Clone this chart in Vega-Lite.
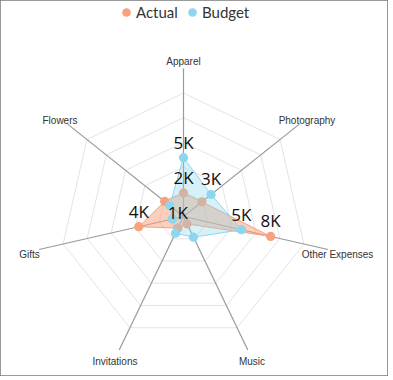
{
  "$schema": "https://vega.github.io/schema/vega-lite/v6.json",
  "width": 388,
  "height": 376,
  "autosize": {"type": "none"},
  "padding": 0,
  "background": "white",
  "config": {"view": {"stroke": "#7a7a7a", "strokeWidth": 1.5}},
  "datasets": {
    "spend": [
      {"category": "Apparel", "idx": 0, "series": "Actual", "value": 2000, "label": "2K"},
      {"category": "Photography", "idx": 1, "series": "Actual", "value": 2000, "label": ""},
      {"category": "Other Expenses", "idx": 2, "series": "Actual", "value": 7600, "label": "8K"},
      {"category": "Music", "idx": 3, "series": "Actual", "value": 700, "label": ""},
      {"category": "Invitations", "idx": 4, "series": "Actual", "value": 1100, "label": "1K"},
      {"category": "Gifts", "idx": 5, "series": "Actual", "value": 3900, "label": "4K"},
      {"category": "Flowers", "idx": 6, "series": "Actual", "value": 2050, "label": ""},
      {"category": "Apparel", "idx": 0, "series": "Budget", "value": 5000, "label": "5K"},
      {"category": "Photography", "idx": 1, "series": "Budget", "value": 3000, "label": "3K"},
      {"category": "Other Expenses", "idx": 2, "series": "Budget", "value": 5050, "label": "5K"},
      {"category": "Music", "idx": 3, "series": "Budget", "value": 1950, "label": ""},
      {"category": "Invitations", "idx": 4, "series": "Budget", "value": 1570, "label": ""},
      {"category": "Gifts", "idx": 5, "series": "Budget", "value": 980, "label": ""},
      {"category": "Flowers", "idx": 6, "series": "Budget", "value": 1500, "label": ""}
    ],
    "categories": [
      {"category": "Apparel", "idx": 0},
      {"category": "Photography", "idx": 1},
      {"category": "Other Expenses", "idx": 2},
      {"category": "Music", "idx": 3},
      {"category": "Invitations", "idx": 4},
      {"category": "Gifts", "idx": 5},
      {"category": "Flowers", "idx": 6}
    ],
    "rings": [
      {"level": 2100, "idx": [0, 1, 2, 3, 4, 5, 6]},
      {"level": 4200, "idx": [0, 1, 2, 3, 4, 5, 6]},
      {"level": 6300, "idx": [0, 1, 2, 3, 4, 5, 6]},
      {"level": 8400, "idx": [0, 1, 2, 3, 4, 5, 6]},
      {"level": 10500, "idx": [0, 1, 2, 3, 4, 5, 6]}
    ]
  },
  "layer": [
    {
      "data": {"name": "rings"},
      "transform": [
        {"flatten": ["idx"]},
        {"calculate": "datum.idx * 2 * PI / 7", "as": "angle"},
        {"calculate": "datum.level * sin(datum.angle)", "as": "x"},
        {"calculate": "datum.level * cos(datum.angle)", "as": "y"}
      ],
      "mark": {"type": "line", "interpolate": "linear-closed", "stroke": "#e4e4e4", "strokeWidth": 1},
      "encoding": {
        "x": {"field": "x", "type": "quantitative", "scale": {"domain": [-15601, 17387], "nice": false, "zero": false}, "axis": null},
        "y": {"field": "y", "type": "quantitative", "scale": {"domain": [-13561, 18407], "nice": false, "zero": false}, "axis": null},
        "detail": {"field": "level"},
        "order": {"field": "idx"}
      }
    },
    {
      "data": {"name": "categories"},
      "transform": [
        {"calculate": "datum.idx * 2 * PI / 7", "as": "angle"},
        {"calculate": "12600 * sin(datum.angle)", "as": "x"},
        {"calculate": "12600 * cos(datum.angle)", "as": "y"}
      ],
      "mark": {"type": "rule", "stroke": "#9a9a9a", "strokeWidth": 1.2},
      "encoding": {
        "x": {"field": "x", "type": "quantitative"},
        "y": {"field": "y", "type": "quantitative"},
        "x2": {"datum": 0},
        "y2": {"datum": 0}
      }
    },
    {
      "data": {"name": "categories"},
      "transform": [
        {"calculate": "datum.idx * 2 * PI / 7", "as": "angle"},
        {"calculate": "13430 * sin(datum.angle)", "as": "x"},
        {"calculate": "13430 * cos(datum.angle)", "as": "y"}
      ],
      "mark": {"type": "text", "font": "Liberation Sans", "fontSize": 10, "color": "#333333", "align": "center", "baseline": "middle", "dy": 3},
      "encoding": {
        "x": {"field": "x", "type": "quantitative"},
        "y": {"field": "y", "type": "quantitative"},
        "text": {"field": "category"}
      }
    },
    {
      "data": {"name": "spend"},
      "transform": [
        {"filter": "datum.series == 'Actual'"},
        {"calculate": "datum.idx * 2 * PI / 7", "as": "angle"},
        {"calculate": "datum.value * sin(datum.angle)", "as": "x"},
        {"calculate": "datum.value * cos(datum.angle)", "as": "y"}
      ],
      "mark": {"type": "line", "interpolate": "linear-closed", "stroke": "#f9a07c", "strokeWidth": 1, "fill": "#f9a07c", "fillOpacity": 0.5},
      "encoding": {
        "x": {"field": "x", "type": "quantitative"},
        "y": {"field": "y", "type": "quantitative"},
        "order": {"field": "idx"}
      }
    },
    {
      "data": {"name": "spend"},
      "transform": [
        {"filter": "datum.series == 'Actual'"},
        {"calculate": "datum.idx * 2 * PI / 7", "as": "angle"},
        {"calculate": "datum.value * sin(datum.angle)", "as": "x"},
        {"calculate": "datum.value * cos(datum.angle)", "as": "y"}
      ],
      "mark": {"type": "point", "filled": true, "size": 85, "opacity": 1},
      "encoding": {
        "x": {"field": "x", "type": "quantitative"},
        "y": {"field": "y", "type": "quantitative"},
        "color": {
          "field": "series",
          "type": "nominal",
          "scale": {"domain": ["Actual", "Budget"], "range": ["#f9a07c", "#8dd6ef"]},
          "legend": {
            "title": null,
            "orient": "none",
            "direction": "horizontal",
            "legendX": 119,
            "legendY": 5,
            "padding": 0,
            "symbolType": "circle",
            "symbolSize": 75,
            "symbolStrokeWidth": 0,
            "labelFont": "Lato",
            "labelFontSize": 15,
            "labelColor": "#333333",
            "labelOffset": 2,
            "columnPadding": 7,
            "gridAlign": "none"
          }
        }
      }
    },
    {
      "data": {"name": "spend"},
      "transform": [
        {"filter": "datum.series == 'Budget'"},
        {"calculate": "datum.idx * 2 * PI / 7", "as": "angle"},
        {"calculate": "datum.value * sin(datum.angle)", "as": "x"},
        {"calculate": "datum.value * cos(datum.angle)", "as": "y"}
      ],
      "mark": {"type": "line", "interpolate": "linear-closed", "stroke": "#8dd6ef", "strokeWidth": 1, "fill": "#8dd6ef", "fillOpacity": 0.35},
      "encoding": {
        "x": {"field": "x", "type": "quantitative"},
        "y": {"field": "y", "type": "quantitative"},
        "order": {"field": "idx"}
      }
    },
    {
      "data": {"name": "spend"},
      "transform": [
        {"filter": "datum.series == 'Budget'"},
        {"calculate": "datum.idx * 2 * PI / 7", "as": "angle"},
        {"calculate": "datum.value * sin(datum.angle)", "as": "x"},
        {"calculate": "datum.value * cos(datum.angle)", "as": "y"}
      ],
      "mark": {"type": "point", "filled": true, "size": 85, "opacity": 1},
      "encoding": {
        "x": {"field": "x", "type": "quantitative"},
        "y": {"field": "y", "type": "quantitative"},
        "color": {"field": "series", "type": "nominal"}
      }
    },
    {
      "data": {"name": "spend"},
      "transform": [
        {"filter": "datum.label != ''"},
        {"calculate": "datum.idx * 2 * PI / 7", "as": "angle"},
        {"calculate": "datum.value * sin(datum.angle)", "as": "x"},
        {"calculate": "datum.value * cos(datum.angle)", "as": "y"}
      ],
      "mark": {"type": "text", "font": "Open Sans", "fontSize": 17, "color": "#111111", "align": "center", "baseline": "middle", "dy": -14},
      "encoding": {
        "x": {"field": "x", "type": "quantitative"},
        "y": {"field": "y", "type": "quantitative"},
        "text": {"field": "label"}
      }
    }
  ]
}
